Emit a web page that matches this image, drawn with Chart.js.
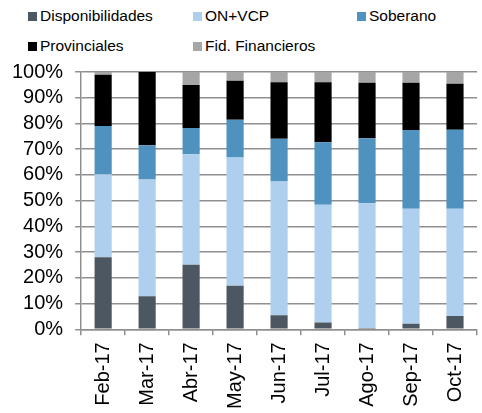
<!DOCTYPE html>
<html>
<head>
<meta charset="utf-8">
<script src="https://cdn.jsdelivr.net/npm/chart.js@4.4.0/dist/chart.umd.min.js"></script>
<style>
body{margin:0;width:482px;height:413px;overflow:hidden;background:#fff;position:relative;font-family:"Liberation Sans",Arial,sans-serif}
#wrap{position:absolute;left:0;top:0;width:486px;height:413px}
.lg{position:absolute;font-size:15.5px;line-height:18px;color:#000;white-space:nowrap}
.lg i{display:inline-block;width:9px;height:9px;margin-right:3px}
</style>
</head>
<body>
<div id="legend"></div>
<div id="wrap"><canvas id="chart1" width="486" height="413"></canvas></div>
<script>
var months = ['Feb-17', 'Mar-17', 'Abr-17', 'May-17', 'Jun-17', 'Jul-17', 'Ago-17', 'Sep-17', 'Oct-17']
var disponibilidades = [28.0, 12.8, 25.1, 16.9, 5.5, 2.6, 0.5, 2.2, 5.2]
var onVcp = [32.3, 45.4, 42.9, 49.9, 51.9, 45.8, 48.5, 44.7, 41.7]
var soberano = [18.7, 13.3, 10.2, 14.6, 16.7, 24.3, 25.3, 30.6, 30.7]
var provinciales = [19.9, 28.5, 16.7, 15.2, 21.9, 23.3, 21.5, 18.3, 17.8]
var fidFinancieros = [1.1, 0, 5.1, 3.4, 4.0, 4.0, 4.2, 4.2, 4.6]
var yTicks = [0, 10, 20, 30, 40, 50, 60, 70, 80, 90, 100]

var font = "'Liberation Sans', Arial, sans-serif"
var gridColor = '#8f8f8f'

var series = [
  {label: 'Disponibilidades', data: disponibilidades, color: '#4d5761'},
  {label: 'ON+VCP', data: onVcp, color: '#aecfee'},
  {label: 'Soberano', data: soberano, color: '#4f91bf'},
  {label: 'Provinciales', data: provinciales, color: '#000000'},
  {label: 'Fid. Financieros', data: fidFinancieros, color: '#a6a6a6'}
]

// legend laid out in fixed columns like the original
var legendPos = [[28, 7], [193, 7], [357, 7], [28, 37], [193, 37]]
var legendHtml = ''
series.forEach(function(s, i){
  legendHtml += '<div class="lg" style="left:' + legendPos[i][0] + 'px;top:' + legendPos[i][1] + 'px"><i style="background:' + s.color + '"></i>' + s.label + '</div>'
})
document.getElementById('legend').innerHTML = legendHtml

const ctx = document.getElementById('chart1').getContext('2d')
const chart1 = new Chart(ctx, {
  type: 'bar',
  data: {
    labels: months,
    datasets: series.map(function(s){
      return {
        label: s.label,
        data: s.data,
        backgroundColor: s.color,
        borderWidth: 0,
        barPercentage: 0.39,
        categoryPercentage: 1
      }
    })
  },
  options: {
    responsive: false,
    animation: false,
    devicePixelRatio: 1,
    layout: {padding: {top: 72, left: 0, right: 0, bottom: -3}},
    plugins: {legend: {display: false}, tooltip: {enabled: false}},
    scales: {
      x: {
        stacked: true,
        grid: {offset: true, drawOnChartArea: false, tickLength: 6, color: gridColor, lineWidth: 1.5},
        border: {color: gridColor, width: 1.5},
        ticks: {minRotation: 90, maxRotation: 90, padding: 7, color: '#000', font: {family: font, size: 20}}
      },
      y: {
        stacked: true,
        min: 0,
        max: 100,
        afterBuildTicks: function(axis){ axis.ticks = yTicks.map(function(v){ return {value: v} }) },
        grid: {tickLength: 6, color: gridColor, lineWidth: 1.5},
        border: {color: gridColor, width: 1.5},
        ticks: {autoSkip: false, padding: 12, color: '#000', font: {family: font, size: 20}, callback: function(v){ return v + '%' }}
      }
    }
  }
})
</script>
</body>
</html>
